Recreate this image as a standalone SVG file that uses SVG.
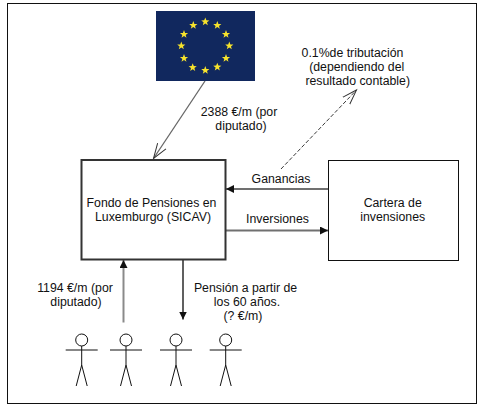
<svg xmlns="http://www.w3.org/2000/svg" xmlns:xlink="http://www.w3.org/1999/xlink" width="484" height="409" viewBox="0 0 484 409">
<style>
text{font-family:"Liberation Sans",Arial,sans-serif;font-size:12.3px;fill:#111;text-anchor:middle}
.conn{fill:none;stroke:#707070;stroke-width:2}
.fig{fill:none;stroke:#111;stroke-width:1}
</style>
<defs>
<marker id="tri" markerUnits="userSpaceOnUse" markerWidth="10" markerHeight="10" refX="8" refY="4" orient="auto"><path d="M0 0L8 4L0 8Z" fill="#111"/></marker>
<marker id="open" markerUnits="userSpaceOnUse" markerWidth="18" markerHeight="14" refX="15" refY="6" orient="auto"><path d="M0 1L15 6L0 11" fill="none" stroke="#333" stroke-width="1"/></marker>
<polygon id="star" points="0,-4.200 1.100,-1.400 4.100,-1.300 1.700,0.600 2.500,3.500 0,1.800 -2.500,3.500 -1.700,0.600 -4.100,-1.300 -1.100,-1.400" fill="#f7e32c"/>
<g id="person" class="fig"><circle cx="0" cy="340" r="6" fill="#fff"/><path d="M0 346V365M-16 350H16M-5.500 386L0 365L5.500 386"/></g>
</defs>
<rect width="484" height="409" fill="#fff"/>
<rect id="frame" x="7.500" y="3.500" width="469" height="400" fill="none" stroke="#111" stroke-width="1"/>
<g id="flag">
<rect x="156" y="11" width="99" height="70" fill="#11285e"/>
<use href="#star" x="205.300" y="21.700"/><use href="#star" x="217.300" y="25.300"/><use href="#star" x="226" y="34.300"/><use href="#star" x="229.300" y="45.800"/><use href="#star" x="226" y="58.300"/><use href="#star" x="217.300" y="67"/><use href="#star" x="205.300" y="70.300"/><use href="#star" x="192.700" y="67.500"/><use href="#star" x="184" y="58.300"/><use href="#star" x="181.300" y="45.800"/><use href="#star" x="184" y="34.300"/><use href="#star" x="193.300" y="25.300"/>
</g>
<g id="connectors">
<path d="M205 81L153.500 158.500" fill="none" stroke="#666" stroke-width="1.300" marker-end="url(#open)"/>
<path d="M281 169L356.500 90" fill="none" stroke="#222" stroke-width="0.900" stroke-dasharray="4 2" marker-end="url(#open)"/>
<path class="conn" d="M328 189H226" marker-end="url(#tri)"/>
<path class="conn" d="M226 230.500H328" marker-end="url(#tri)"/>
<path class="conn" style="stroke:#8a8a8a" d="M123.500 322.500V260" marker-end="url(#tri)"/>
<path class="conn" style="stroke:#606060" d="M183 260V319.500" marker-end="url(#tri)"/>
</g>
<g id="fondo"><rect x="81.500" y="160" width="144" height="99.500" fill="#fff" stroke="#333" stroke-width="2"/><text x="151.500" y="206.700">Fondo de Pensiones en</text><text x="153" y="221">Luxemburgo (SICAV)</text></g>
<g id="cartera"><rect x="328.500" y="160.500" width="130" height="100" fill="#fff" stroke="#111" stroke-width="1"/><text x="392.700" y="206.700">Cartera de</text><text x="392.700" y="221">invensiones</text></g>
<g id="p1"><use href="#person" x="81.700"/></g>
<g id="p2"><use href="#person" x="126"/></g>
<g id="p3"><use href="#person" x="176"/></g>
<g id="p4"><use href="#person" x="225.700"/></g>
<g id="labels">
<text x="352.500" y="56.700">0.1%de tributación</text><text x="356.700" y="70.700">(dependiendo del</text><text x="357.700" y="84.700">resultado contable)</text>
<text x="239" y="116">2388 €/m (por</text><text x="241" y="130">diputado)</text>
<text x="281" y="182.700">Ganancias</text><text x="277.500" y="223">Inversiones</text>
<text x="75" y="292">1194 €/m (por</text><text x="76" y="306">diputado)</text>
<text x="245.500" y="292">Pensión a partir de</text><text x="247" y="306">los 60 años.</text><text x="243" y="320">(? €/m)</text>
</g>
</svg>
